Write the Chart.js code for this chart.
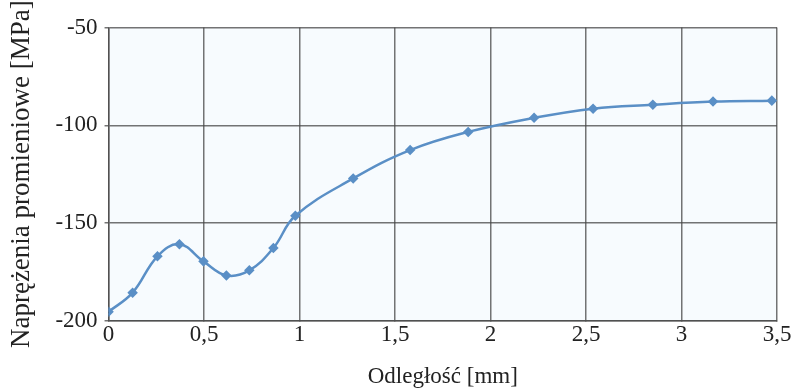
<!DOCTYPE html>
<html>
<head>
<meta charset="utf-8">
<script src="https://cdn.jsdelivr.net/npm/chart.js@4"></script>
<style>
html,body{margin:0;padding:0;background:#fff;}
#wrap{width:797px;height:391px;}
</style>
</head>
<body>
<div id="wrap"><canvas id="c" width="797" height="391"></canvas></div>
<script>
const distances = [0, 0.126, 0.256, 0.371, 0.497, 0.617, 0.737, 0.863, 0.978, 1.281, 1.579, 1.883, 2.228, 2.537, 2.850, 3.165, 3.473];
const stresses = [-195.4, -185.6, -167.0, -160.8, -169.6, -176.8, -174.2, -162.8, -146.3, -127.2, -112.7, -103.4, -96.2, -91.5, -89.5, -87.9, -87.4];
const xTicks = [0, 0.5, 1, 1.5, 2, 2.5, 3, 3.5];
const yTicks = [-200, -150, -100, -50];
const xTitle = 'Odległość [mm]';
const yTitle = 'Naprężenia promieniowe [MPa]';

const points = distances.map((d, i) => ({x: d, y: stresses[i]}));

const plotBg = {
  id: 'plotBg',
  beforeDraw(chart) {
    const {ctx, chartArea: a} = chart;
    ctx.save();
    ctx.fillStyle = '#f7fbfe';
    ctx.fillRect(a.left, a.top, a.right - a.left, a.bottom - a.top);
    ctx.restore();
  }
};

const fontFam = '"Liberation Serif", "DejaVu Serif", serif';
const gridColor = 'rgba(70,70,70,0.75)';

new Chart(document.getElementById('c'), {
  type: 'line',
  data: {
    datasets: [{
      data: points,
      borderColor: '#5a8fc6',
      backgroundColor: '#5a8fc6',
      borderWidth: 2.5,
      pointStyle: 'rectRot',
      pointRadius: 3.5,
      pointHoverRadius: 3.5,
      tension: 0.4,
      fill: false
    }]
  },
  options: {
    responsive: false,
    animation: false,
    devicePixelRatio: 1,
    layout: {padding: {top: 27.5, right: 20, left: 6, bottom: 0}},
    plugins: {legend: {display: false}, tooltip: {enabled: false}},
    scales: {
      x: {
        type: 'linear',
        min: 0, max: 3.5,
        afterBuildTicks(scale) { scale.ticks = xTicks.map(v => ({value: v})); },
        ticks: {
          color: '#222',
          font: {family: fontFam, size: 23},
          padding: 0,
          maxRotation: 0,
          callback: v => String(v).replace('.', ',')
        },
        grid: {color: gridColor, lineWidth: 1.5, tickLength: 0},
        border: {color: gridColor, width: 1.5},
        title: {display: true, text: xTitle, color: '#222', font: {family: fontFam, size: 23}, padding: {top: 15, bottom: 0}}
      },
      y: {
        min: -200, max: -50,
        afterBuildTicks(scale) { scale.ticks = yTicks.map(v => ({value: v})); },
        ticks: {
          color: '#222',
          font: {family: fontFam, size: 23},
          padding: 7
        },
        grid: {color: gridColor, lineWidth: 1.5, tickLength: 4},
        border: {color: gridColor, width: 1.5},
        title: {display: true, text: yTitle, color: '#222', font: {family: fontFam, size: 27}, padding: {top: 0, bottom: 10}}
      }
    }
  },
  plugins: [plotBg]
});
</script>
</body>
</html>
